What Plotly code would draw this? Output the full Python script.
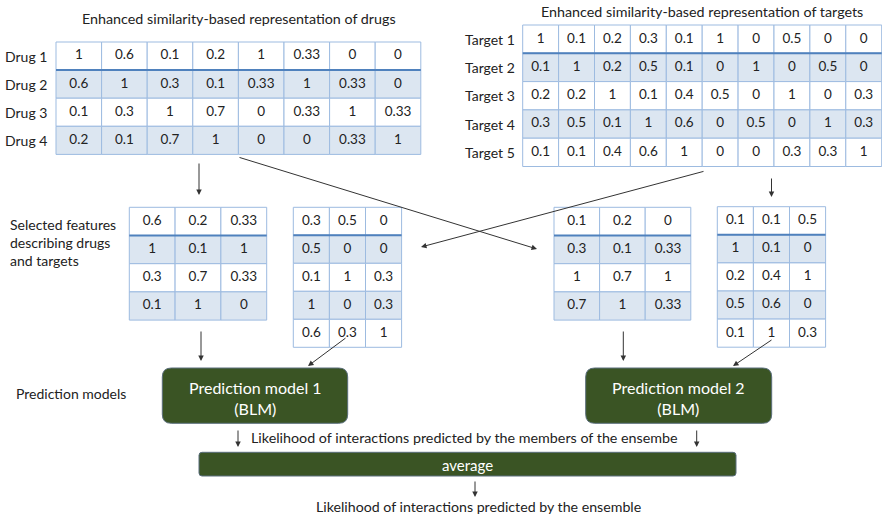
import plotly.graph_objects as go

# ---------------- data ----------------
drug_labels = ["Drug 1", "Drug 2", "Drug 3", "Drug 4"]
drug_values = [
    ["1", "0.6", "0.1", "0.2", "1", "0.33", "0", "0"],
    ["0.6", "1", "0.3", "0.1", "0.33", "1", "0.33", "0"],
    ["0.1", "0.3", "1", "0.7", "0", "0.33", "1", "0.33"],
    ["0.2", "0.1", "0.7", "1", "0", "0", "0.33", "1"],
]
target_labels = ["Target 1", "Target 2", "Target 3", "Target 4", "Target 5"]
target_values = [
    ["1", "0.1", "0.2", "0.3", "0.1", "1", "0", "0.5", "0", "0"],
    ["0.1", "1", "0.2", "0.5", "0.1", "0", "1", "0", "0.5", "0"],
    ["0.2", "0.2", "1", "0.1", "0.4", "0.5", "0", "1", "0", "0.3"],
    ["0.3", "0.5", "0.1", "1", "0.6", "0", "0.5", "0", "1", "0.3"],
    ["0.1", "0.1", "0.4", "0.6", "1", "0", "0", "0.3", "0.3", "1"],
]
sel_drugs_1 = [["0.6", "0.2", "0.33"], ["1", "0.1", "1"], ["0.3", "0.7", "0.33"], ["0.1", "1", "0"]]
sel_targets_1 = [["0.3", "0.5", "0"], ["0.5", "0", "0"], ["0.1", "1", "0.3"], ["1", "0", "0.3"], ["0.6", "0.3", "1"]]
sel_drugs_2 = [["0.1", "0.2", "0"], ["0.3", "0.1", "0.33"], ["1", "0.7", "1"], ["0.7", "1", "0.33"]]
sel_targets_2 = [["0.1", "0.1", "0.5"], ["1", "0.1", "0"], ["0.2", "0.4", "1"], ["0.5", "0.6", "0"], ["0.1", "1", "0.3"]]

title_drugs = "Enhanced similarity-based representation of drugs"
title_targets = "Enhanced similarity-based representation of targets"
label_selected = "Selected features<br>describing drugs<br>and targets"
label_models = "Prediction models"
model_names = ["Prediction model 1<br>(BLM)", "Prediction model 2<br>(BLM)"]
label_members = "Likelihood of interactions predicted by the members of the ensembe"
label_average = "average"
label_ensemble = "Likelihood of interactions predicted by the ensemble"

# ---------------- style ----------------
FONT = "Lato, Open Sans, sans-serif"
GRID = "#9dbbe0"
THICK = "#4f81bd"
FILL = "#dce6f1"
GREEN = "#3a5424"
INK = "#222222"

fig = go.Figure()
shapes = []
annotations = []


def table(x0, cw, y0, rh, vals, labels=None, label_x=None, fsize=13.5):
    nr, nc = len(vals), len(vals[0])
    xs, ys, ts = [], [], []
    for r in range(nr):
        for c in range(nc):
            shapes.append(dict(type="rect", xref="x", yref="y",
                               x0=x0 + c * cw, x1=x0 + (c + 1) * cw,
                               y0=y0 + r * rh, y1=y0 + (r + 1) * rh,
                               fillcolor=FILL if r % 2 == 1 else "white",
                               line=dict(color=GRID, width=1), layer="below"))
            xs.append(x0 + (c + 0.5) * cw)
            ys.append(y0 + (r + 0.5) * rh)
            ts.append(vals[r][c])
    shapes.append(dict(type="line", xref="x", yref="y", x0=x0, x1=x0 + nc * cw,
                       y0=y0 + rh, y1=y0 + rh, line=dict(color=THICK, width=2)))
    fig.add_trace(go.Scatter(x=xs, y=ys, text=ts, mode="text", hoverinfo="skip",
                             textfont=dict(family=FONT, size=fsize, color=INK),
                             showlegend=False))
    if labels:
        for r, lab in enumerate(labels):
            annotations.append(dict(x=label_x, y=y0 + (r + 0.5) * rh, text=lab,
                                    xanchor="right", yanchor="middle", showarrow=False,
                                    font=dict(family=FONT, size=14, color=INK)))


table(56, 45.6, 42, 28.1, drug_values, drug_labels, 49)
table(522.7, 35.9, 25, 28.3, target_values, target_labels, 517)
table(129.3, 45.8, 207.3, 28.2, sel_drugs_1)
table(293.3, 36.1, 207.3, 28.0, sel_targets_1)
table(554, 45.6, 207.3, 28.2, sel_drugs_2)
table(717.3, 36.1, 206.7, 28.1, sel_targets_2)

# titles / labels
annotations.append(dict(x=238.5, y=18, text=title_drugs, showarrow=False,
                        font=dict(family=FONT, size=14.3, color=INK)))
annotations.append(dict(x=702, y=11, text=title_targets, showarrow=False,
                        font=dict(family=FONT, size=14.3, color=INK)))
annotations.append(dict(x=8, y=242, text=label_selected, showarrow=False, xanchor="left",
                        align="left", font=dict(family=FONT, size=14, color=INK)))
annotations.append(dict(x=14, y=393, text=label_models, showarrow=False, xanchor="left",
                        font=dict(family=FONT, size=14, color=INK)))
annotations.append(dict(x=464.5, y=437, text=label_members, showarrow=False,
                        font=dict(family=FONT, size=14.3, color=INK)))
annotations.append(dict(x=478.5, y=506.5, text=label_ensemble, showarrow=False,
                        font=dict(family=FONT, size=14.2, color=INK)))


def rrect(x0, y0, x1, y1, r):
    return (f"M {x0+r},{y0} L {x1-r},{y0} Q {x1},{y0} {x1},{y0+r} L {x1},{y1-r} "
            f"Q {x1},{y1} {x1-r},{y1} L {x0+r},{y1} Q {x0},{y1} {x0},{y1-r} "
            f"L {x0},{y0+r} Q {x0},{y0} {x0+r},{y0} Z")


for (bx0, bx1), name in zip([(162.3, 347.7), (585.7, 771.7)], model_names):
    shapes.append(dict(type="path", xref="x", yref="y", path=rrect(bx0, 368, bx1, 423.3, 9),
                       fillcolor=GREEN, line=dict(color="#5a6e7c", width=1)))
    annotations.append(dict(x=(bx0 + bx1) / 2, y=397.5, text=name, showarrow=False,
                            font=dict(family=FONT, size=16, color="white")))
shapes.append(dict(type="path", xref="x", yref="y", path=rrect(199, 452.3, 736, 476, 3),
                   fillcolor=GREEN, line=dict(color="#5a6e7c", width=1)))
annotations.append(dict(x=467.5, y=464.5, text=label_average, showarrow=False,
                        font=dict(family=FONT, size=15, color="white")))


def arrow(xs, ys, xe, ye):
    annotations.append(dict(x=xe, y=ye, ax=xs, ay=ys, xref="x", yref="y",
                            axref="x", ayref="y", text="", showarrow=True,
                            arrowhead=2, arrowsize=1.1, arrowwidth=1, arrowcolor="#333333"))


arrow(199, 162, 199, 195)
arrow(238, 157, 537, 249)
arrow(705, 171, 421, 247)
arrow(771.5, 177, 771.5, 197)
arrow(201, 330, 201, 361)
arrow(347, 337, 308, 366)
arrow(623.3, 330, 623.3, 361)
arrow(773, 339, 733, 366)
arrow(238, 429, 238, 447)
arrow(696.7, 429, 696.7, 447)
arrow(475, 480, 475, 497)

fig.update_layout(
    width=882, height=518, margin=dict(l=0, r=0, t=0, b=0),
    paper_bgcolor="white", plot_bgcolor="white",
    xaxis=dict(range=[0, 882], visible=False, fixedrange=True),
    yaxis=dict(range=[518, 0], visible=False, fixedrange=True),
    shapes=shapes, annotations=annotations, showlegend=False,
)
fig.write_html("out.html", config={"displayModeBar": False},
               post_script="document.body.style.margin='0';document.body.style.overflow='hidden';")
